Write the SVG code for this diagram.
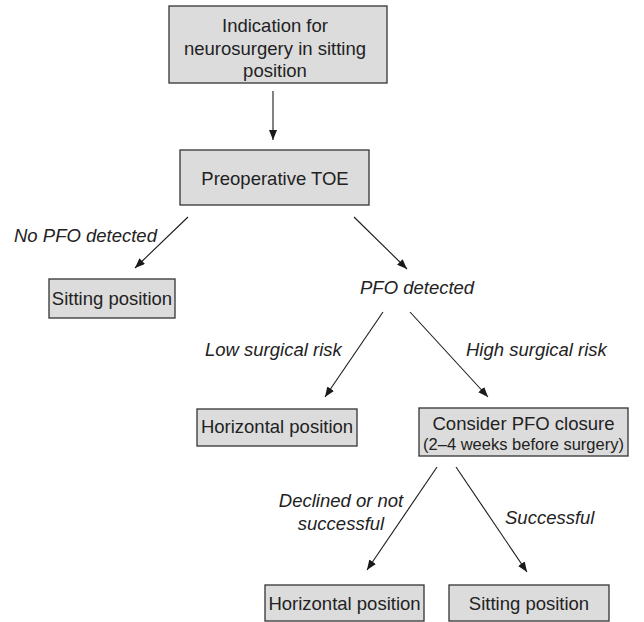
<svg xmlns="http://www.w3.org/2000/svg" width="644" height="622" viewBox="0 0 644 622">
<defs>
<marker id="ah" markerWidth="10" markerHeight="8" refX="10" refY="4" orient="auto" markerUnits="userSpaceOnUse">
<path d="M0,0 L10,4 L0,8 z" fill="#1a1a1a"/>
</marker>
<style>
.box{fill:#dcdcdc;stroke:#333;stroke-width:1.3}
.t{font-family:"Liberation Sans",Arial,sans-serif;font-size:18.5px;fill:#222;text-anchor:middle}
.s{font-family:"Liberation Sans",Arial,sans-serif;font-size:16.5px;fill:#222;text-anchor:middle}
.l{font-family:"Liberation Sans",Arial,sans-serif;font-size:18.5px;font-style:italic;fill:#222}
.c{stroke:#1a1a1a;stroke-width:1.1;fill:none;marker-end:url(#ah)}
</style>
</defs>
<rect width="644" height="622" fill="#fff"/>
<g id="connectors">
<line class="c" x1="273" y1="91" x2="273" y2="140"/>
<line class="c" x1="188" y1="217" x2="135" y2="268"/>
<line class="c" x1="354" y1="217" x2="407" y2="269"/>
<line class="c" x1="383" y1="312" x2="325" y2="397"/>
<line class="c" x1="410" y1="312" x2="488" y2="397"/>
<line class="c" x1="437" y1="467" x2="367" y2="570"/>
<line class="c" x1="456" y1="467" x2="527" y2="572"/>
</g>
<g id="labels">
<text class="l" x="14" y="242">No PFO detected</text>
<text class="l" x="360" y="294">PFO detected</text>
<text class="l" x="205" y="356">Low surgical risk</text>
<text class="l" x="466" y="356">High surgical risk</text>
<text class="l" x="341" y="507" text-anchor="middle">Declined or not</text>
<text class="l" x="341" y="530" text-anchor="middle">successful</text>
<text class="l" x="505" y="524">Successful</text>
</g>
<g id="n1">
<rect class="box" x="169" y="6" width="218" height="77"/>
<text class="t" x="275" y="32">Indication for</text>
<text class="t" x="275" y="55">neurosurgery in sitting</text>
<text class="t" x="275" y="77">position</text>
</g>
<g id="n2">
<rect class="box" x="180" y="150" width="189" height="55"/>
<text class="t" x="275" y="185">Preoperative TOE</text>
</g>
<g id="n3">
<rect class="box" x="49" y="279" width="126" height="39"/>
<text class="t" x="112" y="305">Sitting position</text>
</g>
<g id="n4">
<rect class="box" x="197" y="409" width="160" height="37"/>
<text class="t" x="277" y="433">Horizontal position</text>
</g>
<g id="n5">
<rect class="box" x="419" y="408" width="209" height="48"/>
<text class="t" x="523.5" y="430">Consider PFO closure</text>
<text class="s" x="523.5" y="450">(2–4 weeks before surgery)</text>
</g>
<g id="n6">
<rect class="box" x="265" y="585" width="159" height="36"/>
<text class="t" x="344.5" y="610">Horizontal position</text>
</g>
<g id="n7">
<rect class="box" x="449" y="585" width="160" height="36"/>
<text class="t" x="529" y="610">Sitting position</text>
</g>
</svg>
